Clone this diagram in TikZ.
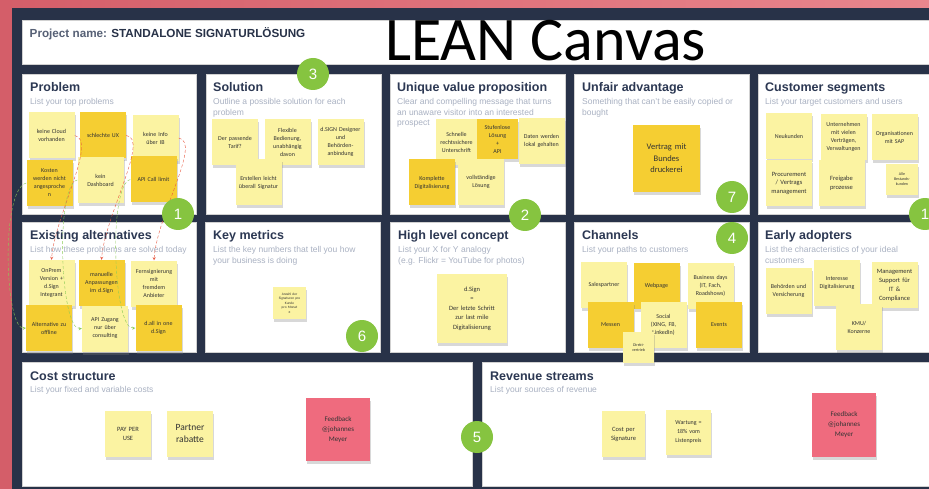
\documentclass[tikz,border=0pt]{standalone}
\usepackage{fontspec}
\setmainfont{Liberation Sans}
\newfontfamily\notefont{Carlito}
\usetikzlibrary{arrows,shadows}
\definecolor{framenavy}{HTML}{283248}
\definecolor{bgred}{HTML}{D45E69}
\definecolor{bgpink}{HTML}{E9868D}
\definecolor{paleyel}{HTML}{FBF3A2}
\definecolor{deepyel}{HTML}{F5CE32}
\definecolor{rosenote}{HTML}{EF6B7E}
\definecolor{limegreen}{HTML}{86C440}
\definecolor{titleblue}{HTML}{2C3853}
\definecolor{hintgrey}{HTML}{A9B1C2}
\definecolor{linkred}{HTML}{E8573F}
\definecolor{linkgreen}{HTML}{8CCB55}
\tikzstyle{panel} = [rectangle, anchor=north west, draw=black!18, fill=white, inner sep=0pt]
\tikzstyle{heading} = [anchor=base west, inner sep=0pt, text=titleblue, font=\bfseries\fontsize{12.5}{14}\selectfont]
\tikzstyle{hint} = [anchor=north west, inner sep=0pt, align=left, text=hintgrey, font=\fontsize{8.5}{10.5}\selectfont]
\tikzstyle{pale} = [rectangle, fill=paleyel, text=black!80, inner sep=1.5pt, text width=43pt, minimum height=46pt, align=center, font=\notefont\fontsize{6}{8}\selectfont, drop shadow={shadow xshift=1pt, shadow yshift=-3pt, opacity=0.3}]
\tikzstyle{deep} = [pale, fill=deepyel]
\tikzstyle{rose} = [pale, fill=rosenote]
\tikzstyle{badge} = [circle, fill=limegreen, text=white, minimum size=32pt, inner sep=0pt, font=\fontsize{15}{15}\selectfont]
\tikzstyle{redlink} = [draw=linkred, densely dashed, thin, ->, >=stealth]
\tikzstyle{greenlink} = [draw=linkgreen, densely dashed, thin, ->, >=stealth]

\begin{document}
\begin{tikzpicture}[x=1pt, y=-1pt]
\clip (0,0) rectangle (929,489);
% backdrop and board
\shade [left color=bgred, right color=bgpink] (0,0) rectangle (929,489);
\fill [framenavy] (12,8) rectangle (929,489);

% header
\node (header) [panel, minimum width=920pt, minimum height=44pt] at (22,20) {};
\node (project) [anchor=base west, inner sep=0pt, font=\bfseries\fontsize{11.7}{13}\selectfont] at (29.5,37.3) {\textcolor{titleblue!80}{Project name:} \textcolor{framenavy}{STANDALONE SIGNATURLÖSUNG}};
\node (lean) [anchor=base west, inner sep=0pt, font=\notefont\fontsize{62}{62}\selectfont] at (385,61) {LEAN Canvas};

% panels
\node (problem) [panel, minimum width=174pt, minimum height=140pt] at (22,74) {};
\node (solution) [panel, minimum width=175pt, minimum height=140pt] at (206,74) {};
\node (uvp) [panel, minimum width=175pt, minimum height=140pt] at (390,74) {};
\node (unfair) [panel, minimum width=175pt, minimum height=140pt] at (574,74) {};
\node (segments) [panel, minimum width=180pt, minimum height=140pt] at (758,74) {};
\node (altern) [panel, minimum width=174pt, minimum height=130pt] at (22,222) {};
\node (metrics) [panel, minimum width=175pt, minimum height=130pt] at (205,222) {};
\node (concept) [panel, minimum width=175pt, minimum height=130pt] at (390,222) {};
\node (channels) [panel, minimum width=175pt, minimum height=130pt] at (574,222) {};
\node (adopters) [panel, minimum width=180pt, minimum height=130pt] at (758,222) {};
\node (cost) [panel, minimum width=450pt, minimum height=124pt] at (22,362) {};
\node (revenue) [panel, minimum width=460pt, minimum height=124pt] at (482,362) {};

% headings
\node (problemT) [heading] at (30,91.5) {Problem};
\node (problemH) [hint] at (30,98.2) {List your top problems};
\node (solutionT) [heading] at (213,91.5) {Solution};
\node (solutionH) [hint] at (213,98.2) {Outline a possible solution for each\\problem};
\node (uvpT) [heading] at (397,91.5) {Unique value proposition};
\node (uvpH) [hint] at (397,98.2) {Clear and compelling message that turns\\an unaware visitor into an interested\\prospect};
\node (unfairT) [heading] at (582,91.5) {Unfair advantage};
\node (unfairH) [hint] at (582,98.2) {Something that can't be easily copied or\\bought};
\node (segmentsT) [heading] at (765,91.5) {Customer segments};
\node (segmentsH) [hint] at (765,98.2) {List your target customers and users};
\node (alternT) [heading] at (30,240) {Existing alternatives};
\node (alternH) [hint] at (30,246.5) {List how these problems are solved today};
\node (metricsT) [heading] at (213,240) {Key metrics};
\node (metricsH) [hint] at (213,246.5) {List the key numbers that tell you how\\your business is doing};
\node (conceptT) [heading] at (398,240) {High level concept};
\node (conceptH) [hint] at (398,246.5) {List your X for Y analogy\\(e.g. Flickr = YouTube for photos)};
\node (channelsT) [heading] at (582,240) {Channels};
\node (channelsH) [hint] at (582,246.5) {List your paths to customers};
\node (adoptersT) [heading] at (765,240) {Early adopters};
\node (adoptersH) [hint] at (765,246.5) {List the characteristics of your ideal\\customers};
\node (costT) [heading] at (30,380) {Cost structure};
\node (costH) [hint] at (30,386.5) {List your fixed and variable costs};
\node (revenueT) [heading] at (490,380) {Revenue streams};
\node (revenueH) [hint] at (490,386.5) {List your sources of revenue};

% problem
\node (pb1) [pale] at (51.5,135.5) {keine Cloud\\vorhanden};
\node (pb2) [deep] at (103,135.5) {schlechte UX};
\node (pb3) [pale] at (155.5,138) {keine Info\\über IB};
\node (pb4) [deep] at (49.5,183) {Kosten\\werden nicht\\angesproche\\n};
\node (pb5) [pale] at (100.5,180) {kein\\Dashboard};
\node (pb6) [deep] at (153.5,179.5) {API Call limit};

% existing alternatives
\node (ea1) [pale] at (51.5,283) {OnPrem\\Version +\\d.Sign\\Integrant};
\node (ea2) [deep] at (101.5,283) {manuelle\\Anpassungen\\im d.Sign};
\node (ea3) [pale] at (154,283.5) {Fernsignierung\\mit\\fremdem Anbieter};
\node (ea4) [deep] at (49,328) {Alternative zu\\offline};
\node (ea5) [pale] at (105,328.5) {API Zugang\\nur über\\consulting};
\node (ea6) [deep] at (158.5,328) {d.all in one\\d.Sign};

% solution
\node (so1) [pale] at (235,142.5) {Der passende\\Tarif?};
\node (so2) [pale] at (287.5,142.5) {Flexible\\Bedienung,\\unabhängig\\davon};
\node (so3) [pale] at (340.5,142) {d.SIGN Designer\\und\\Behörden-\\anbindung};
\node (so4) [pale] at (258.5,182.5) {Erstellen leicht\\überall Signatur};

% unique value proposition
\node (uv1) [pale, text width=38pt] at (456.5,142) {Schnelle\\rechtssichere\\Unterschrift};
\node (uv3) [pale] at (541.5,141) {Daten werden\\lokal gehalten};
\node (uv2) [deep, text width=38pt, minimum height=40pt] at (497.5,139) {Stufenlose\\Lösung\\+\\API};
\node (uv4) [deep] at (432,182.5) {Komplette\\Digitalisierung};
\node (uv5) [pale] at (481,182) {vollständige\\Lösung};

% unfair advantage
\node (ua1) [deep, text width=64pt, minimum height=67pt, font=\notefont\fontsize{8.5}{11.5}\selectfont] at (666.5,158.5) {Vertrag mit\\Bundes\\druckerei};

% customer segments
\node (cs1) [pale] at (789,136.5) {Neukunden};
\node (cs2) [pale] at (843.5,137) {Unternehmen\\mit vielen\\Verträgen,\\Verwaltungen};
\node (cs3) [pale] at (894.5,137.5) {Organisationen\\mit SAP};
\node (cs4) [pale, font=\notefont\fontsize{6.5}{8.5}\selectfont] at (789,183) {Procurement\\/ Vertrags\\management};
\node (cs5) [pale, font=\notefont\fontsize{6.5}{8.5}\selectfont] at (841.5,183.5) {Freigabe\\prozesse};
\node (cs6) [pale, text width=29pt, minimum height=31pt, font=\notefont\fontsize{4}{5}\selectfont] at (902,179.5) {Alle\\Bestands-\\kunden};

% key metrics
\node (km1) [pale, text width=30pt, minimum height=32pt, font=\notefont\fontsize{3.5}{4.5}\selectfont] at (289.5,303) {Anzahl der\\Signaturen pro\\Kunde\\pro Monat\\€};

% high level concept
\node (hc1) [pale, text width=67pt, minimum height=69pt, font=\notefont\fontsize{6.5}{9.5}\selectfont] at (472,308.5) {d.Sign\\=\\Der letzte Schritt\\zur last mile\\Digitalisierung};

% channels
\node (ch1) [pale] at (604,285) {Salespartner};
\node (ch2) [deep] at (656.5,285.5) {Webpage};
\node (ch3) [pale] at (710.5,285.5) {Business days\\(IT, Fach,\\Roadshows)};
\node (ch4) [deep] at (610.5,324.5) {Messen};
\node (ch5) [pale] at (663.5,324.5) {Social\\(XING, FB, LinkedIn)};
\node (ch6) [deep] at (719,324.5) {Events};
\node (ch7) [pale, text width=28pt, minimum height=31pt, font=\notefont\fontsize{4}{5}\selectfont] at (638.5,347.5) {Direkt-\\vertrieb};

% early adopters
\node (ad1) [pale] at (788.5,290.5) {Behörden und\\Versicherung};
\node (ad2) [pale] at (837,283) {Interesse\\Digitalisierung};
\node (ad3) [pale, font=\notefont\fontsize{6.5}{9}\selectfont] at (894.5,285) {Management\\Support für\\IT \&\\Compliance};
\node (ad4) [pale] at (859,327) {KMU/\\Konzerne};

% cost structure
\node (cst1) [pale, font=\notefont\fontsize{6.5}{9}\selectfont] at (128,433.5) {PAY PER\\USE};
\node (cst2) [pale, font=\notefont\fontsize{9.5}{12.5}\selectfont] at (190,433.5) {Partner\\rabatte};
\node (cst3) [rose, text width=61pt, minimum height=63pt, font=\notefont\fontsize{7}{10}\selectfont] at (338,429.5) {Feedback\\@johannes\\Meyer};

% revenue streams
\node (rv1) [pale, text width=40pt, font=\notefont\fontsize{6.5}{9}\selectfont] at (623.5,434) {Cost per\\Signature};
\node (rv2) [pale, text width=42pt, minimum height=45pt, font=\notefont\fontsize{6}{9}\selectfont] at (688.5,432.5) {Wartung =\\18\% vom\\Listenpreis};
\node (rv3) [rose, text width=61pt, minimum height=64pt, font=\notefont\fontsize{7}{10}\selectfont] at (844,425) {Feedback\\@johannes\\Meyer};

% problem -> alternative links
\draw [redlink] (pb1.east) .. controls (98,140) and (55,215) .. (ea1.north);
\draw [redlink] (pb2.east) .. controls (150,138) and (105,215) .. (ea2.north);
\draw [redlink] (pb3.east) .. controls (202,142) and (157,215) .. (ea3.north);
\draw [greenlink] (pb4.west) .. controls (0,190) and (5,330) .. (ea4.west);
\draw [greenlink] (pb5.west) .. controls (55,185) and (60,330) .. (ea5.west);
\draw [greenlink] (pb6.west) .. controls (108,185) and (113,330) .. (ea6.west);

% step numbers
\node (n1) [badge] at (178,214) {1};
\node (n3) [badge] at (313,74) {3};
\node (n2) [badge] at (525,215) {2};
\node (n7) [badge] at (732,197) {7};
\node (n1b) [badge] at (925,214) {1};
\node (n4) [badge] at (732,238) {4};
\node (n6) [badge] at (362,336) {6};
\node (n5) [badge] at (477,437) {5};
\end{tikzpicture}
\end{document}
